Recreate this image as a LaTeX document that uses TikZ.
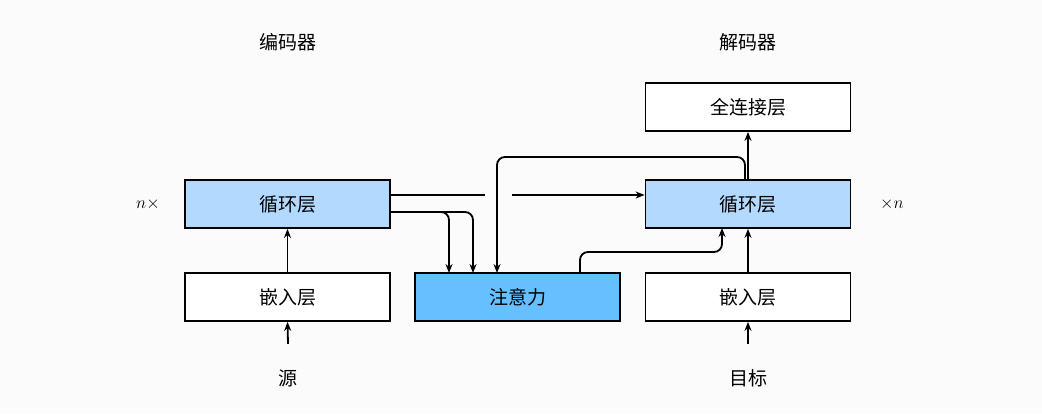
\documentclass[tikz,border=0pt]{standalone}
\usepackage{fontspec}
\setmainfont{Noto Sans CJK SC}
\newfontfamily\lmfont{Latin Modern Roman}
\usetikzlibrary{arrows.meta}
\definecolor{lb}{HTML}{B3D9FF}
\definecolor{mb}{HTML}{66BFFF}
\begin{document}
\begin{tikzpicture}[x=1pt,y=-1pt,
  box/.style={draw,line width=1.8pt,minimum width=205pt,minimum height=48pt,inner sep=0,font=\fontsize{19}{20}\selectfont},
  lab/.style={font=\fontsize{19}{20}\selectfont},
  arr/.style={line width=1.8pt,-{Stealth[length=9pt,width=7pt]},rounded corners=8pt},
  ln/.style={line width=1.8pt,rounded corners=8pt}]
\fill[white!97!gray] (0,0) rectangle (1042,413);
\useasboundingbox (0,0) rectangle (1042,413);
\node[box,fill=lb] (er) at (287.5,204) {循环层};
\node[box,fill=white] (ee) at (287.5,297) {嵌入层};
\node[box,fill=mb] (at) at (517.5,297) {注意力};
\node[box,fill=lb] (dr) at (748,204) {循环层};
\node[box,fill=white] (de) at (748,297) {嵌入层};
\node[box,fill=white] (fc) at (748,107) {全连接层};
\node[lab] (t1) at (288,42) {编码器};
\node[lab] (t2) at (748,42) {解码器};
\node[lab] (s) at (288,378) {源};
\node[lab] (g) at (748,378) {目标};
\node[font=\lmfont\fontsize{19}{20}\selectfont] (n1) at (148,204) {$n\times$};
\node[font=\lmfont\fontsize{19}{20}\selectfont] (n2) at (892,204) {$\times n$};
\coordinate (gapa) at (485,195);
\coordinate (gapb) at (512,195);
\draw[arr] (s.north) ++(0,-22) -- (ee.south);
\draw[arr] (ee.north) -- (er.south);
\draw[arr] (g.north) ++(0,-22) -- (de.south);
\draw[arr] (de.north) -- (dr.south);
\draw[arr] (dr.north) -- (fc.south);
\draw[ln] (er.east |- gapa) -- (gapa);
\draw[arr] (gapb) -- (dr.west |- gapb);
\draw[arr] (390,212) -| (449,273);
\draw[arr] (390,212) -| (473,273);
\draw[arr] (745,180) |- (497,157) -- (497,273);
\draw[arr] (580,273) |- (722,252) -- (722,228);
\end{tikzpicture}
\end{document}
